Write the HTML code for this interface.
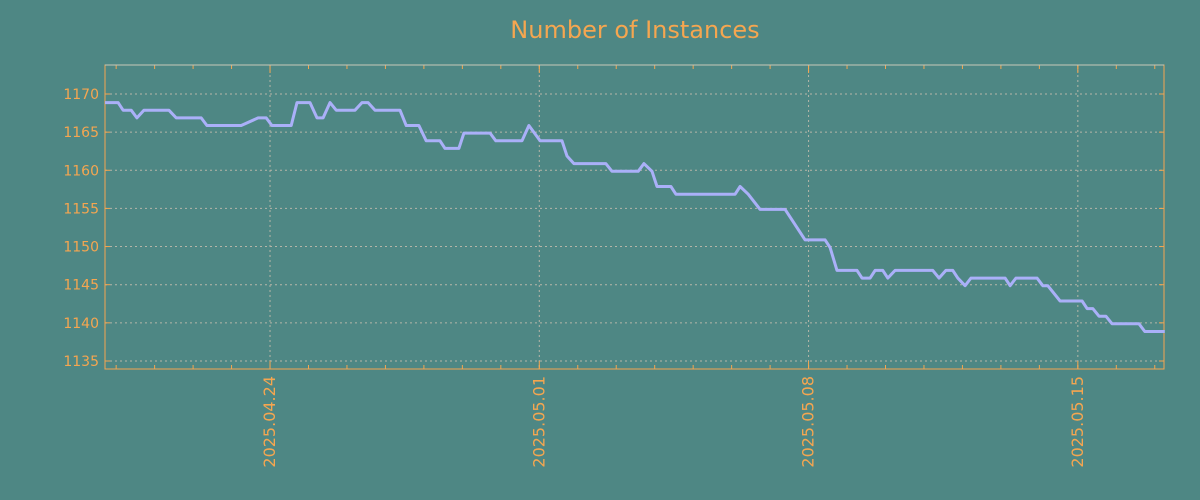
<!DOCTYPE html>
<html><head><meta charset="utf-8"><style>
body{margin:0;background:#4e8784;}
svg{display:block;font-family:"DejaVu Sans","Liberation Sans",sans-serif;}
</style></head><body>
<svg id="chart" width="1200" height="500" xmlns="http://www.w3.org/2000/svg">
<rect width="1200" height="500" fill="#4e8784"/>
<text x="635" y="38" text-anchor="middle" font-size="24" fill="#f5a650">Number of Instances</text>
<g id="grid"></g><g id="axes"></g><g id="series"></g>
</svg>
<script>
// day offsets relative to 2025-04-24
const days=[-4.29,-3.95,-3.82,-3.61,-3.46,-3.28,-2.63,-2.44,-1.79,-1.64,-0.75,-0.31,-0.10,0.05,0.55,0.70,1.04,1.22,1.38,1.56,1.72,2.21,2.39,2.55,2.73,3.38,3.54,3.87,4.06,4.42,4.55,4.91,5.04,5.72,5.87,6.55,6.73,7.02,7.59,7.72,7.90,8.73,8.89,9.57,9.72,9.93,10.06,10.42,10.55,12.09,12.22,12.43,12.74,13.39,13.65,13.91,14.43,14.56,14.74,15.26,15.39,15.60,15.73,15.93,16.06,16.25,17.23,17.39,17.57,17.75,17.88,18.07,18.22,19.11,19.24,19.39,19.94,20.09,20.22,20.54,21.11,21.24,21.39,21.55,21.73,21.89,22.59,22.74,23.26];
const values=[1169,1169,1168,1168,1167,1168,1168,1167,1167,1166,1166,1167,1167,1166,1166,1169,1169,1167,1167,1169,1168,1168,1169,1169,1168,1168,1166,1166,1164,1164,1163,1163,1165,1165,1164,1164,1166,1164,1164,1162,1161,1161,1160,1160,1161,1160,1158,1158,1157,1157,1158,1157,1155,1155,1153,1151,1151,1150,1147,1147,1146,1146,1147,1147,1146,1147,1147,1146,1147,1147,1146,1145,1146,1146,1145,1146,1146,1145,1145,1143,1143,1142,1142,1141,1141,1140,1140,1139,1139];
const yTicks=[1135,1140,1145,1150,1155,1160,1165,1170];
const xMajor=[0,7,14,21];
const xLabels=["2025.04.24","2025.05.01","2025.05.08","2025.05.15"];
const L=105,R=1164,T=65,B=369,X0=-4.29,X1=23.24,Y0=1133.95,Y1=1173.8;
const xs=d=>L+(d-X0)/(X1-X0)*(R-L);
const ys=v=>B-(v-Y0)/(Y1-Y0)*(B-T);
const NS="http://www.w3.org/2000/svg";
function mk(tag,attrs,parent){const e=document.createElementNS(NS,tag);for(const k in attrs)e.setAttribute(k,attrs[k]);parent.appendChild(e);return e;}
const grid=document.getElementById('grid'),axes=document.getElementById('axes'),series=document.getElementById('series');
yTicks.forEach(v=>{const y=ys(v);
 const g=mk('line',{x1:L,x2:R,y1:y,y2:y,stroke:'#b5b5a8','stroke-dasharray':'2,3','stroke-width':1},grid);
 
 
 mk('line',{x1:L,x2:L+5,y1:y,y2:y,stroke:'#f5a650'},axes);
 mk('line',{x1:R-5,x2:R,y1:y,y2:y,stroke:'#f5a650'},axes);
 const t=mk('text',{x:L-6,y:y+5,'text-anchor':'end','font-size':14,fill:'#f5a650'},axes);
 t.textContent=v;
 
 
});
for(let d=Math.ceil(X0);d<=X1;d++){const x=xs(d);
 mk('line',{x1:x,x2:x,y1:B,y2:B-4,stroke:'#f5a650'},axes);
 mk('line',{x1:x,x2:x,y1:T,y2:T+4,stroke:'#f5a650'},axes);}
xMajor.forEach((d,i)=>{const x=xs(d);
 const g=mk('line',{x1:x,x2:x,y1:T,y2:B,stroke:'#b5b5a8','stroke-dasharray':'2,3'},grid);
 
 
 mk('line',{x1:x,x2:x,y1:B,y2:B-8,stroke:'#f5a650'},axes);
 mk('line',{x1:x,x2:x,y1:T,y2:T+8,stroke:'#f5a650'},axes);
 const t=mk('text',{x:0,y:0,'text-anchor':'end','font-size':16,fill:'#f5a650',transform:`translate(${x+5},${B+7}) rotate(-90)`},axes);
 t.textContent=xLabels[i];
 
 
});
const fr=mk('rect',{x:L,y:T,width:R-L,height:B-T,fill:'none',stroke:'#f5a650','stroke-width':1},axes);


mk('line',{x1:L,x2:R,y1:T,y2:T,stroke:'#c8c8b8'},axes);
const pts=days.map((d,i)=>xs(d).toFixed(1)+','+(ys(values[i])+1).toFixed(1)).join(' ');
const pl=mk('polyline',{points:pts,fill:'none',stroke:'#aab0f8','stroke-width':3,'stroke-linejoin':'round'},series);


</script>
</body></html>
